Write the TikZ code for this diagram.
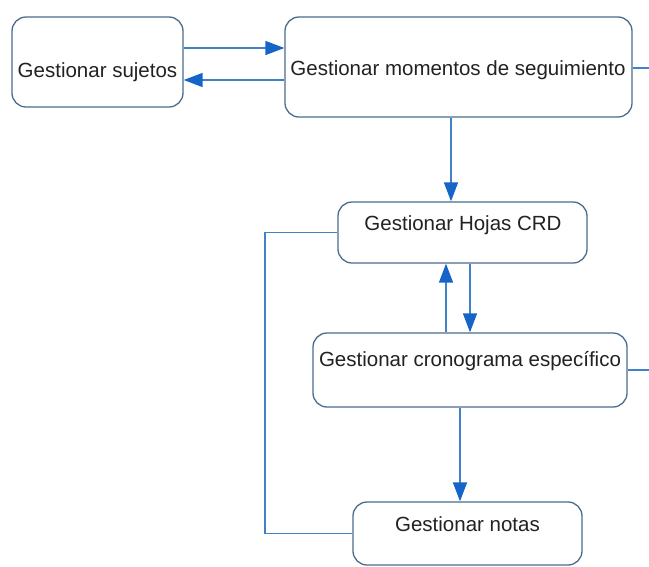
\documentclass[tikz,border=0pt]{standalone}
\usepackage{fontspec}
\setmainfont{Liberation Sans}
\usetikzlibrary{arrows.meta,calc}
\definecolor{boxline}{HTML}{4A6C8E}
\definecolor{conn}{HTML}{3F82C6}
\definecolor{tipc}{HTML}{1565C8}
\definecolor{txtc}{HTML}{222222}
\tikzset{
  box/.style={draw=boxline, line width=1.3pt, rounded corners=14pt, fill=white, inner sep=0pt},
  txt/.style={anchor=base, text=txtc, inner sep=0pt, font=\fontsize{20.5}{24}\selectfont},
  conline/.style={draw=conn, line width=1.4pt},
  arr/.style={conline, -{Triangle[length=19pt,width=14pt,color=tipc]}}
}
\begin{document}
\begin{tikzpicture}[x=1pt,y=-1pt]
\useasboundingbox (0,0) rectangle (649,566);
% boxes
\node[box, minimum width=171pt, minimum height=90pt] (b1) at (97.5,62) {};
\node[box, minimum width=347pt, minimum height=100pt] (b2) at (458.5,67) {};
\node[box, minimum width=249pt, minimum height=61pt] (b3) at (462.5,232.5) {};
\node[box, minimum width=314pt, minimum height=74pt] (b4) at (470,370) {};
\node[box, minimum width=229pt, minimum height=63pt] (b5) at (467.5,533.5) {};
% texts
\node[txt] (t1) at (97.5,77) {Gestionar sujetos};
\node[txt] (t2) at (458,75) {Gestionar momentos de seguimiento};
\node[txt] (t3) at (463,230) {Gestionar Hojas CRD};
\node[txt] (t4) at (470,366.5) {Gestionar cronograma específico};
\node[txt] (t5) at (467.5,531.5) {Gestionar notas};
% connectors
\coordinate (a1) at ([yshift=14pt]b1.east);
\draw[arr] (a1) -- (a1 -| b2.west);
\coordinate (a2) at ([yshift=-13pt]b2.west);
\draw[arr] (a2) -- (a2 -| b1.east);
\coordinate (e1) at (649,68);
\draw[conline] (b2.east |- e1) -- (e1);
\coordinate (a3) at ([xshift=-7.5pt]b2.south);
\draw[arr] (a3) -- (a3 |- b3.north);
\coordinate (a4) at ([xshift=-24pt]b4.north);
\draw[arr] (a4) -- (a4 |- b3.south);
\coordinate (a5) at (b4.north);
\draw[arr] (a5 |- b3.south) -- (a5);
\coordinate (e2) at (649,370);
\draw[conline] (b4.east) -- (e2);
\coordinate (a6) at ([xshift=-10pt]b4.south);
\draw[arr] (a6) -- (a6 |- b5.north);
\coordinate (lft) at (265,400);
\draw[conline] (b3.west) -| (lft) |- (b5.west);
\end{tikzpicture}
\end{document}
